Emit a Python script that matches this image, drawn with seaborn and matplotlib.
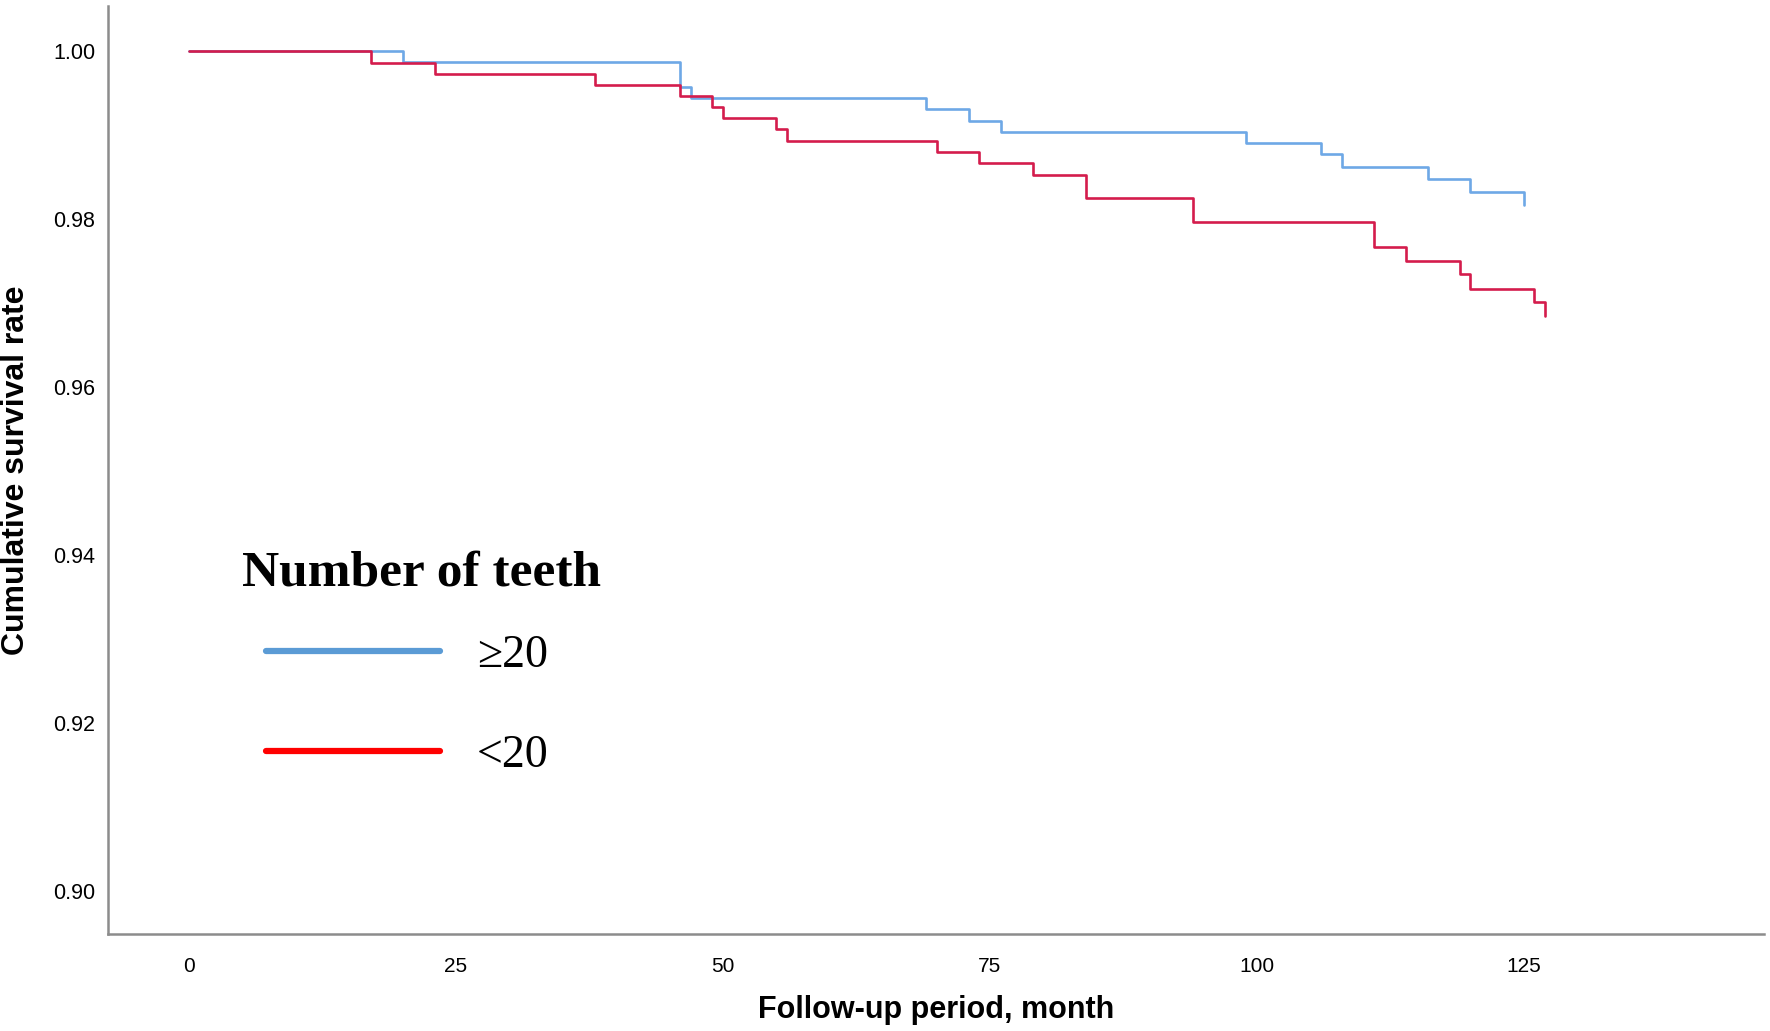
import pandas as pd
import seaborn as sns
import matplotlib.pyplot as plt
from matplotlib.lines import Line2D

# Kaplan-Meier step values
months_ge20 = [0, 20, 46, 47, 69, 73, 76, 99, 106, 108, 116, 120, 125]
surv_ge20 = [1.0, 0.9987, 0.9957, 0.9944, 0.9931, 0.9917, 0.9903,
             0.9890, 0.9877, 0.9862, 0.9847, 0.9832, 0.9817]

months_lt20 = [0, 17, 23, 38, 46, 49, 50, 55, 56, 70, 74, 79, 84, 94,
               111, 114, 119, 120, 126, 127]
surv_lt20 = [1.0, 0.9986, 0.9972, 0.9959, 0.9946, 0.9933, 0.9920, 0.9907,
             0.9893, 0.9880, 0.9866, 0.9852, 0.9825, 0.9796, 0.9766,
             0.9750, 0.9734, 0.9717, 0.9701, 0.9684]

groups = ['\u226520', '<20']
x_ticks = [0, 25, 50, 75, 100, 125]
y_ticks = [0.90, 0.92, 0.94, 0.96, 0.98, 1.00]

df = pd.concat([
    pd.DataFrame({'month': months_ge20, 'survival': surv_ge20, 'group': groups[0]}),
    pd.DataFrame({'month': months_lt20, 'survival': surv_lt20, 'group': groups[1]}),
])

sns.set_style('white')
plt.rcParams['font.family'] = ['Liberation Sans', 'DejaVu Sans']
plt.rcParams['text.color'] = 'black'
plt.rcParams['axes.labelcolor'] = 'black'
plt.rcParams['xtick.color'] = 'black'
plt.rcParams['ytick.color'] = 'black'

fig = plt.figure(figsize=(17.7, 10.31), dpi=100)
ax = fig.add_axes([0.061, 0.0936, 0.9356, 0.901])

line_colors = {groups[0]: '#6ea8e6', groups[1]: '#d41c4c'}
sns.lineplot(data=df, x='month', y='survival', hue='group', palette=line_colors,
             estimator=None, sort=False, drawstyle='steps-post', linewidth=1.9,
             legend=False, ax=ax)

ax.set_xlim(-7.6, 147.5)
ax.set_ylim(0.8948, 1.0054)
ax.set_xticks(x_ticks)
ax.set_yticks(y_ticks)
ax.set_yticklabels([f'{v:.2f}' for v in y_ticks], fontsize=15.5)
ax.set_xticklabels([str(v) for v in x_ticks], fontsize=15)
ax.tick_params(axis='both', length=0)
ax.tick_params(axis='y', pad=9)
ax.tick_params(axis='x', pad=16)

for side in ['top', 'right']:
    ax.spines[side].set_visible(False)
for side in ['left', 'bottom']:
    ax.spines[side].set_color('#8c8c8c')
    ax.spines[side].set_linewidth(1.8)

ax.set_xlabel('Follow-up period, month', fontsize=22, fontweight='bold', labelpad=14)
ax.set_ylabel('Cumulative survival rate', fontsize=23, fontweight='bold', labelpad=16)

# legend: title as separate text so it can sit left of the handles
ax.text(0.081, 0.376, 'Number of teeth', transform=ax.transAxes,
        family='Liberation Serif', fontsize=37, fontweight='bold',
        ha='left', va='baseline')
handles = [Line2D([], [], color='#5b9bd5', linewidth=4.5),
           Line2D([], [], color='#ff0000', linewidth=4.5)]
leg = ax.legend(handles, groups, frameon=False, borderpad=0, borderaxespad=0,
                loc='center left', bbox_to_anchor=(0.0954, 0.246),
                prop={'family': 'Liberation Serif', 'size': 33},
                handlelength=3.8, handletextpad=0.8, labelspacing=1.25)

fig.savefig('out.png', dpi=100)
